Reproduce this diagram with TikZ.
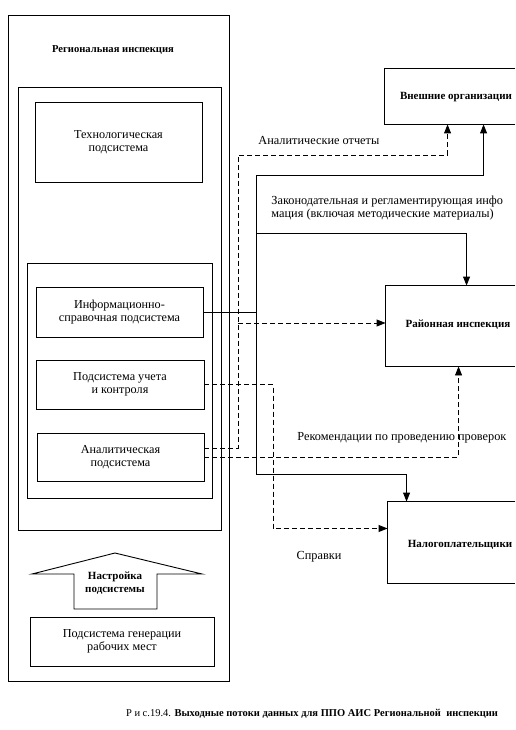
\documentclass[tikz,border=0pt]{standalone}
\usepackage{fontspec}
\setmainfont{Liberation Serif}
\usetikzlibrary{arrows.meta}

\begin{document}
\begin{tikzpicture}[x=1pt,y=-1pt,>={Triangle[length=9pt,width=7pt]},line width=0.9pt,
  box/.style 2 args={draw,minimum width=#1,minimum height=#2,inner sep=0pt},
  sub text/.style={font=\fontsize{12.2}{13.5}\selectfont,align=center},
  org text/.style={font=\fontsize{11}{13.5}\selectfont\bfseries,align=center},
  flow text/.style={font=\fontsize{12.3}{13}\selectfont,inner sep=0pt},
  data flow/.style={->,dash pattern=on 5pt off 3pt}]
  \useasboundingbox (0,0) rectangle (515,730);
  % Regional inspection and its subsystems
  \node[box={221}{666}] (reg) at (118.5,348) {};
  \node[font=\fontsize{10.6}{12}\selectfont\bfseries] (regtitle) at (113,50) {Региональная инспекция};
  \node[box={203}{443}] (mid) at (119.5,308.5) {};
  \node[box={167}{80},sub text] (tech) at (118.5,142) {Технологическая\\подсистема};
  \node[box={185}{235}] (grp) at (119.5,380.5) {};
  \node[box={167}{50},sub text] (info) at (119.5,312) {Информационно-\\справочная подсистема};
  \node[box={168}{49},sub text] (uchet) at (120,384.5) {Подсистема учета\\и контроля};
  \node[box={167}{48},sub text] (anal) at (120.5,457) {Аналитическая\\подсистема};
  \node[box={184}{49},sub text] (gen) at (122,641.5) {Подсистема генерации\\рабочих мест};
  \draw (32,574) -- (74,574) -- (74,609) -- (157,609) -- (157,574) -- (202,574) -- (115,553) -- cycle;
  \node[org text] (tune) at (115,583) {Настройка\\подсистемы};
  % receivers
  \node[minimum width=130,minimum height=55,inner sep=0pt] (ext) at (450,96.5) {};
  \draw (ext.north east) -- (ext.north west) -- (ext.south west) -- (ext.south east);
  \node[org text] (extlabel) at (456,97) {Внешние организации};
  \node[minimum width=129,minimum height=80,inner sep=0pt] (rai) at (450.5,326) {};
  \draw (rai.north east) -- (rai.north west) -- (rai.south west) -- (rai.south east);
  \node[org text] (railabel) at (458,325) {Районная инспекция};
  \node[minimum width=127,minimum height=81,inner sep=0pt] (nal) at (451.5,542.5) {};
  \draw (nal.north east) -- (nal.north west) -- (nal.south west) -- (nal.south east);
  \node[org text] (nallabel) at (460,545) {Налогоплательщики};
  % flows
  \coordinate (zt) at (256,175);
  \coordinate (zm) at (256,233);
  \coordinate (zb) at (256,474);
  \coordinate (da) at (238,155);
  \coordinate (rai-in) at ([yshift=3pt]rai.west);
  \coordinate (nal-in) at ([yshift=14pt]nal.west);
  \draw (info.east) -- (info.east -| zt);
  \draw (zt) -- (zb);
  \draw[->] (zt) -| ([xshift=99pt]ext.south west);
  \draw[->] (zm) -| ([xshift=81pt]rai.north west);
  \draw[->] (zb) -| ([xshift=19pt]nal.north west);
  \draw[data flow] ([yshift=9pt]anal.east) -| (da) -| ([xshift=63pt]ext.south west);
  \draw[data flow] (rai-in -| da) -- (rai-in);
  \draw[data flow] (uchet.east) -- ++(69,0) |- (nal-in);
  \draw[data flow] (anal.east) -| ([xshift=73pt]rai.south west);
  \node[flow text,anchor=west] (l-an) at (258,141) {Аналитические отчеты};
  \node[flow text,anchor=north west,align=left] (l-zak) at (271,196) {Законодательная и регламентирующая инфо\\мация (включая методические материалы)};
  \node[flow text,anchor=west] (l-rek) at (297,438) {Рекомендации по проведению проверок};
  \node[flow text] (l-spr) at (319,557) {Справки};
  \node[font=\fontsize{10.5}{12}\selectfont] (cap) at (312,714) {Р и с.19.4. \textbf{Выходные потоки данных для ППО АИС Региональной\ \ инспекции}};
\end{tikzpicture}
\end{document}
